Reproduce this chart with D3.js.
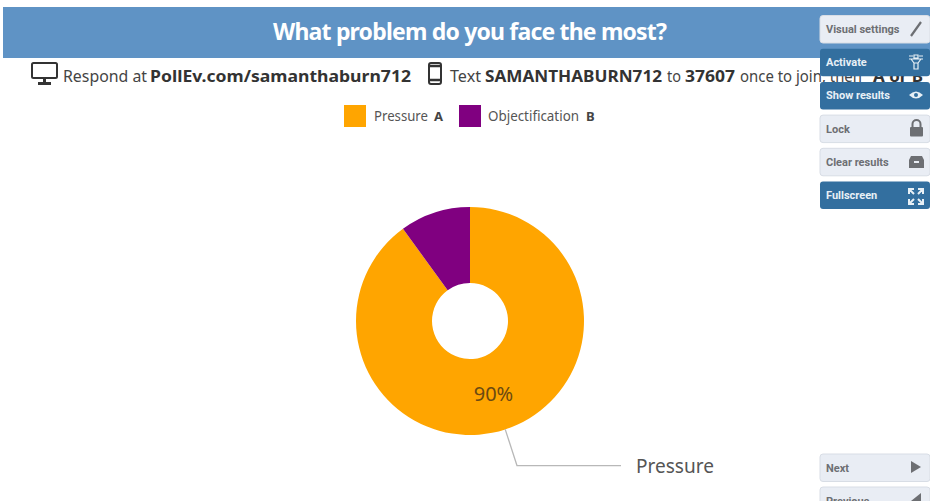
<!DOCTYPE html>
<html>
<head>
<meta charset="utf-8">
<script src="https://cdn.jsdelivr.net/npm/d3@7"></script>
<style>
html,body{margin:0;padding:0;background:#fff;overflow:hidden}
svg{display:block}
text{font-family:"Noto Sans","Open Sans",sans-serif}
.btn text{font-family:Roboto,"Liberation Sans",sans-serif;font-weight:700;font-size:11px}
</style>
</head>
<body>
<svg id="poll" width="930" height="501"></svg>
<script>
// Poll responses
const categories = ["Pressure", "Objectification"];
const letters = ["A", "B"];
const values = [90, 10];
const colours = ["#ffa500", "#800080"];

const title = "What problem do you face the most?";
const sideButtons = ["Visual settings", "Activate", "Show results", "Lock", "Clear results", "Fullscreen"];
const activeButtons = ["Activate", "Show results", "Fullscreen"];
const footButtons = ["Next", "Previous"];

const svg = d3.select("#poll");

// Header band
svg.append("rect").attr("x", 3).attr("y", 7).attr("width", 927).attr("height", 51).attr("fill", "#5f93c5");
svg.append("text").attr("x", 470).attr("y", 40).attr("text-anchor", "middle")
  .attr("fill", "#fff").attr("font-size", 23).attr("font-weight", 700).attr("textLength", 394).text(title);

// Instruction line, split into runs with their own x positions
const instructions = [
  {x: 63, w: 84, t: "Respond at", b: 0},
  {x: 150, w: 261, t: "PollEv.com/samanthaburn712", b: 1},
  {x: 450, w: 31, t: "Text", b: 0},
  {x: 485, w: 177, t: "SAMANTHABURN712", b: 1},
  {x: 667, w: 14, t: "to", b: 0},
  {x: 685, w: 50, t: "37607", b: 1},
  {x: 740, w: 122, t: "once to join, then", b: 0},
  {x: 873, w: 50, t: "A or B", b: 1}
];
svg.append("g").selectAll("text").data(instructions).join("text")
  .attr("x", d => d.x).attr("y", 82).attr("font-size", 16.5)
  .attr("font-weight", d => d.b ? 700 : 400)
  .attr("fill", d => d.b ? "#333" : "#444")
  .attr("textLength", d => d.w).attr("lengthAdjust", "spacingAndGlyphs")
  .text(d => d.t);

// Monitor and phone glyphs
const glyphs = svg.append("g").attr("fill", "none").attr("stroke", "#333").attr("stroke-width", 2);
glyphs.append("rect").attr("x", 32).attr("y", 63).attr("width", 25).attr("height", 15).attr("rx", 1.5);
glyphs.append("path").attr("d", "M44.5 79v3M38 83.5h13").attr("stroke-width", 3);
glyphs.append("rect").attr("x", 429).attr("y", 63).attr("width", 12).attr("height", 21).attr("rx", 2);
glyphs.append("path").attr("d", "M429 66h12M429 80h12").attr("stroke-width", 2.5);

// Legend
const legendX = [344, 459], legendW = [54, 91];
const legend = svg.append("g").selectAll("g").data(categories).join("g")
  .attr("transform", (d, i) => `translate(${legendX[i]},105)`);
legend.append("rect").attr("width", 22).attr("height", 22).attr("fill", (d, i) => colours[i]);
legend.append("text").attr("x", (d, i) => 30 - i).attr("y", 16).attr("font-size", 13.5).attr("fill", "#555")
  .attr("textLength", (d, i) => legendW[i]).attr("lengthAdjust", "spacingAndGlyphs").text(d => d);
legend.append("text").attr("x", (d, i) => 36 + legendW[i]).attr("y", 16).attr("font-size", 13)
  .attr("font-weight", 700).attr("fill", "#444").text((d, i) => letters[i]);

// Donut
const cx = 470, cy = 321, outer = 114, inner = 38, elbowR = 152, leaderEnd = 621;
const slices = d3.pie().sort(null).value(d => d)(values);
const arc = d3.arc().innerRadius(inner).outerRadius(outer);
const donut = svg.append("g").attr("transform", `translate(${cx},${cy})`);
donut.selectAll("path").data(slices).join("path")
  .attr("d", arc).attr("fill", (d, i) => colours[i]);

// Only the larger slice carries a value label and a leader line
const main = slices[0];
const mid = (main.startAngle + main.endAngle) / 2;
const [lx, ly] = arc.centroid(main);
donut.append("text").attr("x", lx).attr("y", ly + 8).attr("text-anchor", "middle")
  .attr("font-size", 20).attr("fill", "#6b4a12").text(values[0] + "%");
const polar = r => [r * Math.sin(mid), -r * Math.cos(mid)];
const elbow = polar(elbowR);
donut.append("path")
  .attr("d", d3.line()([polar(outer), elbow, [leaderEnd - cx, elbow[1]]]))
  .attr("fill", "none").attr("stroke", "#b8b8b8").attr("stroke-width", 1.3);
svg.append("text").attr("x", 636).attr("y", cy + elbow[1] + 7).attr("font-size", 20).attr("fill", "#555")
  .attr("textLength", 78).attr("lengthAdjust", "spacingAndGlyphs").text(categories[0]);

// Presenter control buttons
const btnTop = d3.scalePoint().domain(sideButtons).range([15.5, 181.5]);
const drawBtn = (sel, y) => {
  const g = sel.attr("class", "btn").attr("transform", d => `translate(820,${y(d)})`);
  const active = d => activeButtons.includes(d);
  g.append("rect").attr("width", 110).attr("height", 27.5).attr("rx", 3)
    .attr("fill", d => active(d) ? "#336f9f" : "#e9edf4")
    .attr("stroke", d => active(d) ? "none" : "#d8dde5");
  g.append("text").attr("x", 6).attr("y", 17.5)
    .attr("fill", d => active(d) ? "#e8f0f6" : "#6d6f73").text(d => d);
};
svg.append("g").selectAll("g").data(sideButtons).join("g").call(drawBtn, d => btnTop(d));
const footTop = d3.scalePoint().domain(footButtons).range([454, 487]);
svg.append("g").selectAll("g").data(footButtons).join("g").call(drawBtn, d => footTop(d));

// Button icons
const ico = svg.append("g");
ico.append("path").attr("d", "M911 36L921 22").attr("stroke", "#6d6f73").attr("stroke-width", 2.2).attr("fill", "none");
ico.append("path").attr("d", "M909 56h4M919 56h4M914 55h4v3h-4zM909 59h14M911 59l3 4h4l3-4M914 63v6h4v-6").attr("stroke", "#e8f0f6").attr("stroke-width", 1.2).attr("fill", "none");
ico.append("path").attr("d", "M909 95q7-7 14 0q-7 7-14 0z").attr("fill", "#e8f0f6");
ico.append("circle").attr("cx", 916).attr("cy", 95).attr("r", 2).attr("fill", "#336f9f");
ico.append("rect").attr("x", 910).attr("y", 127).attr("width", 13).attr("height", 9.5).attr("rx", 1).attr("fill", "#6d6f73");
ico.append("path").attr("d", "M912.5 127v-3a4 4 0 0 1 8 0v3").attr("stroke", "#6d6f73").attr("stroke-width", 2).attr("fill", "none");
ico.append("path").attr("d", "M911 156h11l2 4v8h-15v-8zM914 161v2h5v-2z").attr("fill", "#6d6f73").attr("fill-rule", "evenodd");
ico.append("path").attr("d", "M909 194v-5h5M923 194v-5h-5M909 199v5h5M923 199v5h-5M910 190l4 4M922 190l-4 4M910 203l4-4M922 203l-4-4").attr("stroke", "#e8f0f6").attr("stroke-width", 2).attr("fill", "none");
ico.append("path").attr("d", "M911 461l10 6l-10 6z").attr("fill", "#6d6f73");
ico.append("path").attr("d", "M921 493v8h-10z").attr("fill", "#6d6f73");
</script>
</body>
</html>
